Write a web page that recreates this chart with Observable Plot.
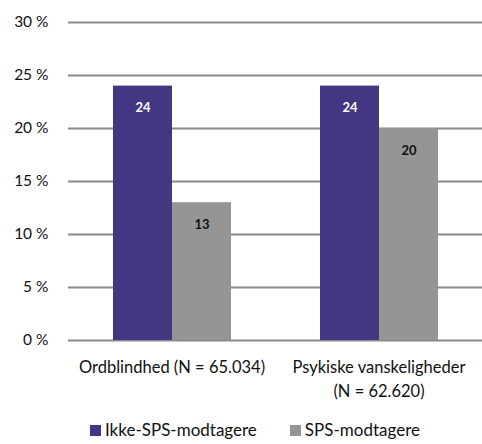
<!DOCTYPE html>
<html><head><meta charset="utf-8">
<script src="https://cdn.jsdelivr.net/npm/d3@7"></script>
<script src="https://cdn.jsdelivr.net/npm/@observablehq/plot@0.6"></script>
<style>
body{margin:0;background:#fff;font-family:Lato,"Noto Sans",sans-serif;}
#legend{display:flex;justify-content:center;gap:33px;font-size:17px;line-height:20px;color:#111;margin-left:28px;margin-top:12px}
#legend span.sw{display:inline-block;width:11px;height:11px;margin-right:4px;vertical-align:0px}
</style></head>
<body><div id="chart"></div><div id="legend"></div>
<script>
const categories = ["Ordblindhed (N = 65.034)", "Psykiske vanskeligheder\n(N = 62.620)"];
const series = ["Ikke-SPS-modtagere", "SPS-modtagere"];
const ikkeSPS = [24, 24];
const sps = [13, 20];
const yTicks = [0, 5, 10, 15, 20, 25, 30];
const colors = ["#433683", "#959595"];

const data = [];
categories.forEach((c, i) => {
  data.push({cat: c, series: series[0], value: ikkeSPS[i]});
  data.push({cat: c, series: series[1], value: sps[i]});
});

const chart = Plot.plot({
  width: 482, height: 408,
  marginLeft: 67, marginRight: 0, marginTop: 22, marginBottom: 68,
  style: {fontFamily: "Lato, 'Noto Sans', sans-serif", fontSize: "15px", color: "#111"},
  fx: {domain: categories, padding: 0, label: null},
  x: {domain: series, paddingInner: 0, paddingOuter: 0.73, axis: null},
  y: {domain: [0, 30], label: null},
  color: {domain: series, range: colors},
  marks: [
    Plot.ruleY(yTicks, {stroke: "#8a8a8a", strokeWidth: 2, facet: "exclude"}),
    Plot.axisY(yTicks, {tickSize: 0, tickPadding: 20, tickFormat: d => d + " %", fontSize: 15.5, label: null}),
    Plot.axisFx({anchor: "bottom", tickSize: 0, tickPadding: 16, fontSize: 16.5, label: null, lineHeight: 1.45}),
    Plot.barY(data, {fx: "cat", x: "series", y: "value", fill: "series"}),
    Plot.text(data, {fx: "cat", x: "series", y: "value", text: d => String(d.value), dy: 22,
      fill: d => d.series === series[0] ? "#fff" : "#111", fontWeight: "bold", fontSize: 13})
  ]
});
document.getElementById("chart").appendChild(chart);

const lg = document.getElementById("legend");
series.forEach((s, i) => {
  const d = document.createElement("div");
  d.innerHTML = `<span class="sw" style="background:${colors[i]}"></span>${s}`;
  lg.appendChild(d);
});
</script></body></html>
